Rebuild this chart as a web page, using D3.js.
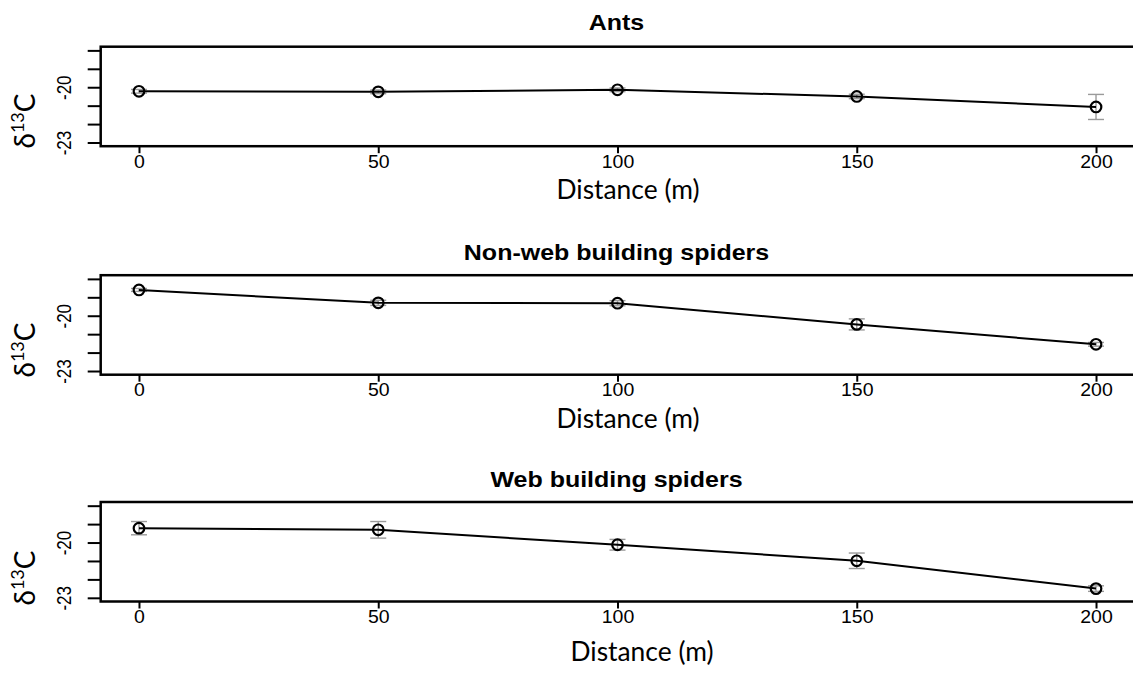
<!DOCTYPE html>
<html>
<head>
<meta charset="utf-8">
<script src="https://cdn.jsdelivr.net/npm/d3@7"></script>
<style>
  html, body { margin: 0; padding: 0; background: #fff; }
  svg { display: block; }
</style>
</head>
<body>
<svg id="chart" width="1133" height="689"></svg>
<script>
// ---- data ----
const distances = [0, 50, 100, 150, 200];
const panelTitles = ["Ants", "Non-web building spiders", "Web building spiders"];
const antsMean = [-20.22, -20.25, -20.14, -20.5, -21.07];
const antsSE   = [0.1, 0.1, 0.1, 0.12, 0.68];
const nonWebMean = [-18.6, -19.3, -19.32, -20.47, -21.55];
const nonWebSE   = [0.08, 0.14, 0.14, 0.3, 0.1];
const webMean = [-19.22, -19.31, -20.12, -20.99, -22.5];
const webSE   = [0.36, 0.45, 0.29, 0.42, 0.15];
const xTicks = [0, 50, 100, 150, 200];
const yTicks = [-23, -22, -21, -20, -19, -18];
const yTickLabels = [-23, -20];
const xAxisTitle = "Distance (m)";

const seriesMeans = [antsMean, nonWebMean, webMean];
const seriesSE = [antsSE, nonWebSE, webSE];

// ---- layout ----
const svg = d3.select("#chart");
const left = 100.7, right = 1134.3;
const panelTops = [46.7, 275.2, 502];
const panelH = 99.5;
const titleBaselines = [30, 259.5, 487];
const xLabelCenters = [628, 628, 642];
const xLabelOffsets = [53, 53.5, 59.5];
const ylabCenters = [121, 350, 578];
const vSquash = 0.9;

const x = d3.scaleLinear().domain([-8, 208]).range([left, right]);

panelTops.forEach((top, i) => {
  const bottom = top + panelH;
  const y = d3.scaleLinear().domain([-23.2, -17.8]).range([bottom, top]);
  const g = svg.append("g");
  const means = seriesMeans[i], ses = seriesSE[i];
  const pts = distances.map((d, k) => ({d, m: means[k], se: ses[k]}));

  // error bars
  const eb = g.append("g").attr("stroke", "#9a9a9a").attr("stroke-width", 1.4).attr("fill", "none");
  pts.forEach(p => {
    eb.append("line").attr("x1", x(p.d)).attr("x2", x(p.d)).attr("y1", y(p.m - p.se)).attr("y2", y(p.m + p.se));
    eb.append("line").attr("x1", x(p.d) - 8).attr("x2", x(p.d) + 8).attr("y1", y(p.m - p.se)).attr("y2", y(p.m - p.se));
    eb.append("line").attr("x1", x(p.d) - 8).attr("x2", x(p.d) + 8).attr("y1", y(p.m + p.se)).attr("y2", y(p.m + p.se));
  });

  // line
  g.append("path").datum(pts)
    .attr("fill", "none").attr("stroke", "#000").attr("stroke-width", 2)
    .attr("d", d3.line().x(p => x(p.d)).y(p => y(p.m)));

  // points
  g.selectAll("circle.pt").data(pts).join("circle")
    .attr("class", "pt")
    .attr("cx", p => x(p.d)).attr("cy", p => y(p.m)).attr("r", 5.3)
    .attr("fill", "none").attr("stroke", "#000").attr("stroke-width", 2.2);

  // box
  g.append("rect").attr("x", left).attr("y", top).attr("width", right - left).attr("height", panelH)
    .attr("fill", "none").attr("stroke", "#000").attr("stroke-width", 2.5);

  // x axis
  const xa = g.append("g").attr("transform", `translate(0,${bottom})`)
    .call(d3.axisBottom(x).tickValues(xTicks).tickSize(7).tickFormat(d3.format("d")));
  xa.select(".domain").remove();
  xa.selectAll(".tick line").attr("stroke", "#000").attr("stroke-width", 2);
  xa.selectAll(".tick text").attr("y", 0).attr("dy", null)
    .attr("transform", `translate(0,21.5) scale(1,${vSquash})`)
    .attr("fill", "#000").style("font-family", "'Liberation Sans', Arial, sans-serif").style("font-size", "19.5px");

  // y axis
  const ya = g.append("g").attr("transform", `translate(${left},0)`)
    .call(d3.axisLeft(y).tickValues(yTicks).tickSize(13)
      .tickFormat(d => yTickLabels.includes(d) ? String(d) : ""));
  ya.select(".domain").remove();
  ya.selectAll(".tick line").attr("stroke", "#000").attr("stroke-width", 2);
  ya.selectAll(".tick text")
    .attr("x", null).attr("dy", null).attr("text-anchor", "middle")
    .attr("transform", `translate(${71 - left},0) scale(1,0.85) rotate(-90)`)
    .attr("fill", "#000").style("font-family", "'Liberation Sans', Arial, sans-serif").style("font-size", "20px");

  // title
  g.append("text")
    .attr("transform", `translate(${(left + right) / 2 - 1},${titleBaselines[i]}) scale(1,${vSquash})`)
    .attr("text-anchor", "middle")
    .style("font-family", "'Liberation Sans', Arial, sans-serif").style("font-weight", "bold").style("font-size", "25px")
    .text(panelTitles[i]);

  // x axis title
  const xt = g.append("text").attr("x", xLabelCenters[i]).attr("y", bottom + xLabelOffsets[i])
    .attr("text-anchor", "middle")
    .style("font-family", "Lato, 'Open Sans', sans-serif").style("font-size", "27px")
    .text(xAxisTitle);
  const w = xt.node().getComputedTextLength();
  xt.style("font-size", (27 * 143 / w).toFixed(2) + "px");

  // y axis title
  const yt = g.append("text").attr("transform", `translate(35,${ylabCenters[i]}) rotate(-90)`)
    .attr("text-anchor", "middle")
    .style("font-family", "Lato, 'Open Sans', sans-serif").style("font-size", "28px");
  yt.append("tspan").text("δ");
  yt.append("tspan").attr("dy", -11).style("font-size", "18px").text("13");
  yt.append("tspan").attr("dy", 11).text("C");
});
</script>
</body>
</html>
